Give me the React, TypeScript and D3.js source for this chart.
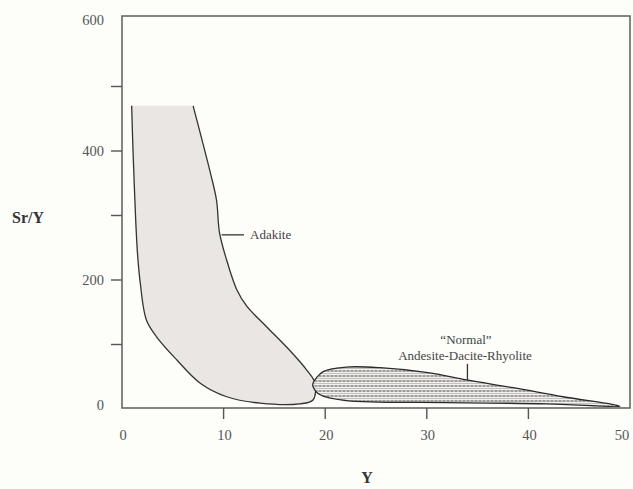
import * as d3 from "d3";
import React from "react";

// Adakite field outline, from the top-right corner, down and round to the top-left (top left open)
const adakiteY = [470, 366, 324, 273, 231, 185, 159, 128, 91, 60, 40, 14, 8, 9, 19, 40, 76, 112, 138, 195, 247, 394, 470];
const adakiteX = [7.0, 8.7, 9.3, 9.6, 10.3, 11.3, 12.3, 14.2, 16.5, 18.2, 19.0, 18.8, 17.5, 13.6, 10.3, 7.7, 5.4, 3.4, 2.4, 1.8, 1.5, 1.1, 0.95];

// "Normal" andesite-dacite-rhyolite lens, closed
const normalX = [18.8, 19.8, 22.1, 25.4, 30.3, 33.9, 38.5, 43.4, 48.6, 49.0, 41.8, 32.0, 22.1, 19.5, 18.8];
const normalY = [40, 58, 65, 64, 56, 45, 33, 19, 6, 4, 8, 10, 13, 22, 35];

const xTicks = [0, 10, 20, 30, 40, 50];
const yLabelTicks = [0, 200, 400, 600];
const yMinorTicks = [100, 300, 500];

const W = 633;
const H = 489;
const font = "'Liberation Serif', 'Times New Roman', serif";

const App: React.FC = () => {
  const x = d3.scaleLinear().domain([0, 50]).range([122, 630]);
  const y = d3.scaleLinear().domain([0, 600]).range([409, 22]);
  const frame = { left: 122, right: 630, top: 16, bottom: 408 };

  const line = d3
    .line<[number, number]>()
    .x((d) => x(d[0]))
    .y((d) => y(d[1]))
    .curve(d3.curveCatmullRom.alpha(0.5));

  const closed = d3
    .line<[number, number]>()
    .x((d) => x(d[0]))
    .y((d) => y(d[1]))
    .curve(d3.curveCatmullRomClosed.alpha(0.5));

  const adakite = adakiteX.map((v, i) => [v, adakiteY[i]] as [number, number]);
  const normal = normalX.map((v, i) => [v, normalY[i]] as [number, number]);

  return (
    <div style={{ position: "fixed", left: 0, top: 0 }}>
      <svg width={W} height={H} style={{ display: "block", background: "#fdfdfa" }}>
        <defs>
          <pattern id="hatch" width="4" height="5" patternUnits="userSpaceOnUse">
            <rect width="4" height="5" fill="#f2f1ef" />
            <line x1="0" x2="4" y1="1" y2="1" stroke="#858380" strokeWidth="1.3" strokeDasharray="1.6 0.8" />
            <line x1="0" x2="4" y1="3.5" y2="3.5" stroke="#bdbbb7" strokeWidth="0.9" />
          </pattern>
        </defs>

        <path d={line(adakite) ?? ""} fill="#e9e6e3" stroke="#333" strokeWidth={1.3} />
        <path d={closed(normal) ?? ""} fill="url(#hatch)" stroke="#2a2a2a" strokeWidth={1.3} />

        {/* frame */}
        <rect
          x={frame.left}
          y={frame.top}
          width={frame.right - frame.left}
          height={frame.bottom - frame.top}
          fill="none"
          stroke="#666"
          strokeWidth={1.6}
        />

        {/* y ticks */}
        {yLabelTicks.concat(yMinorTicks).filter((t) => t !== 0 && t !== 600).map((t) => (
          <line key={"yt" + t} x1={frame.left - 11} x2={frame.left} y1={y(t)} y2={y(t)} stroke="#555" strokeWidth={1.4} />
        ))}
        {yLabelTicks.map((t) => (
          <text
            key={"yl" + t}
            x={frame.left - 18}
            y={t === 0 ? frame.bottom - 3 : t === 600 ? frame.top + 4 : y(t)}
            dy="0.35em"
            textAnchor="end"
            fontFamily={font}
            fontSize={14.5}
            fill="#555"
          >
            {t}
          </text>
        ))}

        {/* x ticks */}
        {xTicks.filter((t) => t !== 0 && t !== 50).map((t) => (
          <line key={"xt" + t} x1={x(t)} x2={x(t)} y1={frame.bottom} y2={frame.bottom + 11} stroke="#555" strokeWidth={1.4} />
        ))}
        {xTicks.map((t) => (
          <text
            key={"xl" + t}
            x={t === 50 ? x(t) - 8 : x(t) + 1}
            y={frame.bottom + 32}
            textAnchor="middle"
            fontFamily={font}
            fontSize={14.5}
            fill="#555"
          >
            {t}
          </text>
        ))}

        {/* axis titles */}
        <text x={28} y={223} textAnchor="middle" fontFamily={font} fontWeight="bold" fontSize={16} fill="#333">
          Sr/Y
        </text>
        <text x={367} y={483} textAnchor="middle" fontFamily={font} fontWeight="bold" fontSize={16} fill="#333">
          Y
        </text>

        {/* annotations */}
        <line x1={x(9.8)} x2={x(12.0)} y1={y(270)} y2={y(270)} stroke="#333" strokeWidth={1.3} />
        <text x={x(12.6)} y={y(270)} dy="0.35em" fontFamily={font} fontSize={13} fill="#444">
          Adakite
        </text>

        <line x1={x(34.0)} x2={x(34.0)} y1={y(70)} y2={y(45)} stroke="#333" strokeWidth={1.3} />
        <text x={466} y={344} textAnchor="middle" fontFamily={font} fontSize={13} fill="#444">
          {"\u201CNormal\u201D"}
        </text>
        <text x={465} y={360} textAnchor="middle" fontFamily={font} fontSize={13} fill="#444">
          Andesite-Dacite-Rhyolite
        </text>
      </svg>
    </div>
  );
};

export default App;
